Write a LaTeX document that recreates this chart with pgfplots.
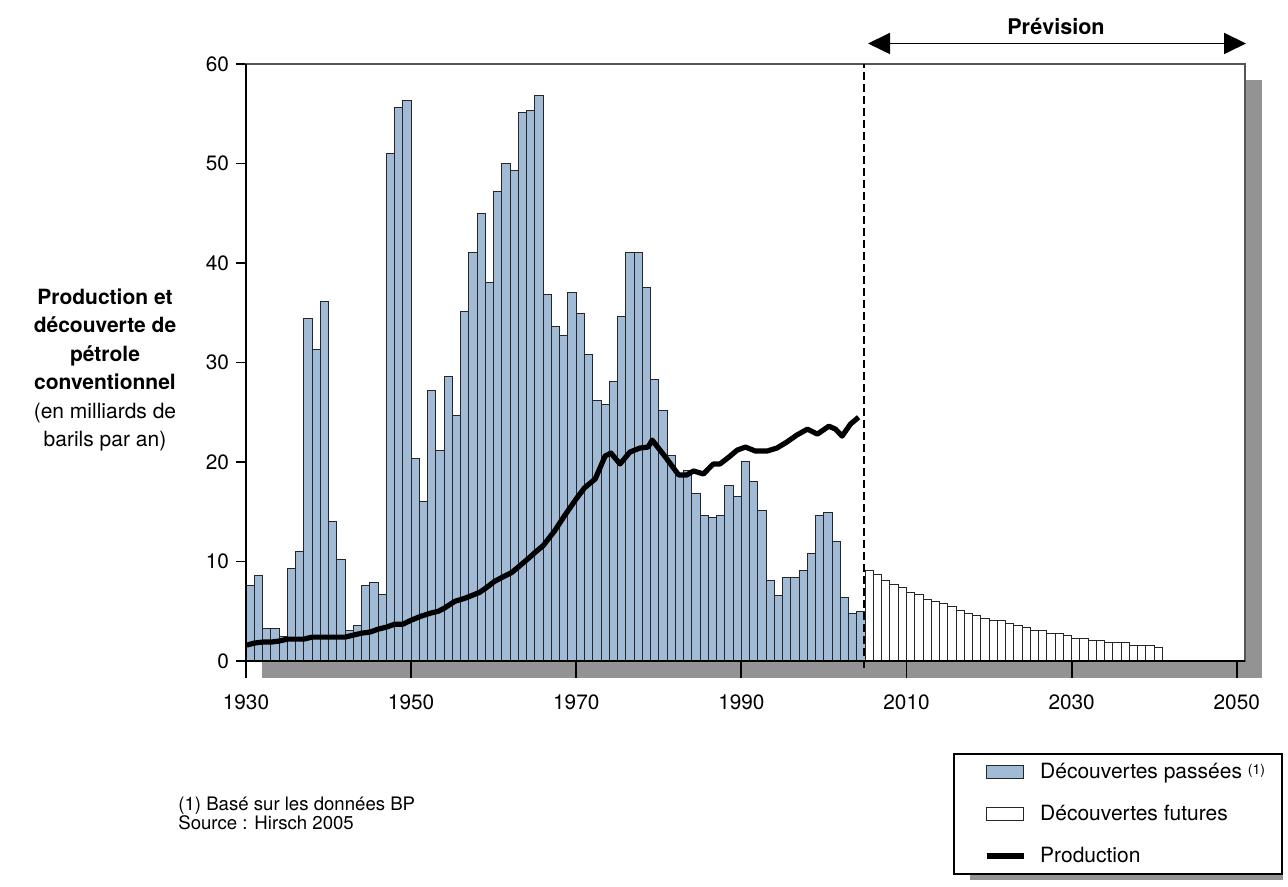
\documentclass[border=0pt]{standalone}
\usepackage{fontspec}
\setmainfont{TeX Gyre Heros}
\usepackage{pgfplots}
\pgfplotsset{compat=1.18}
\usetikzlibrary{arrows.meta}
\definecolor{barblue}{HTML}{A1BBD7}
\definecolor{shadowgray}{HTML}{939393}
\definecolor{framegray}{HTML}{555555}
% pixel of the reference -> picture coordinates (plot area south west at 0,0)
\newcommand\px[2]{({((#1)-246)*0.5pt},{(661-(#2))*0.5pt})}
\pgfplotsset{
  barleg/.style={legend image code/.code={\path (-6.5pt,0); \draw[##1] (0pt,-3.2pt) rectangle (18.5pt,3.2pt);}},
  lineleg/.style={legend image code/.code={\path (-6.5pt,0); \draw[##1] (0pt,0pt) -- (18.5pt,0pt);}},
}
\begin{document}
\begin{tikzpicture}
\useasboundingbox \px{0}{0} rectangle \px{1288}{887};
\fill[shadowgray] \px{262}{80} rectangle \px{1262}{678};
\fill[shadowgray] \px{970}{767} rectangle \px{1283}{880};
\begin{axis}[
  at={(0,0)}, anchor=south west,
  scale only axis, width=499.5pt, height=298.5pt,
  xmin=1930, xmax=2051, ymin=0, ymax=60,
  clip=false,
  axis background/.style={fill=white},
  axis line style={draw=framegray, line width=0.7pt},
  tick pos=left, tick align=outside, major tick length=5pt,
  tick style={black, line width=0.9pt},
  xtick=\empty,
  extra x ticks={1930,1950,1970,1990,2010,2030,2050},
  extra x tick labels={1930,1950,1970,1990,2010,2030,2050},
  extra x tick style={major tick length=8.5pt},
  ytick={0,10,...,60},
  /pgf/number format/assume math mode=true,
  tick label style={font=\fontsize{10.4}{12}\selectfont},
  xticklabel style={yshift=-5pt},
  legend style={at={(0.7077,-0.1541)}, anchor=north west, draw=black,
    line width=1pt, fill=white, font=\fontsize{10.5}{12}\selectfont,
    inner xsep=8.5pt, inner ysep=4.5pt, /tikz/row sep=11.8pt,
    /tikz/column sep=7pt, nodes={inner sep=0pt}},
  legend cell align=left,
]
\addplot[ybar interval, fill=barblue, draw=black!85, line width=0.5pt, barleg]
  coordinates {(1930,7.6)(1931,8.6)(1932,3.3)(1933,3.3)(1934,2.5)(1935,9.3)
  (1936,11.0)(1937,34.4)(1938,31.3)(1939,36.1)(1940,14.0)(1941,10.2)(1942,3.1)
  (1943,3.6)(1944,7.6)(1945,7.9)(1946,6.7)(1947,51.0)(1948,55.6)(1949,56.3)
  (1950,20.4)(1951,16.0)(1952,27.2)(1953,21.2)(1954,28.6)(1955,24.7)(1956,35.1)
  (1957,41.1)(1958,45.0)(1959,38.0)(1960,47.2)(1961,50.0)(1962,49.3)(1963,55.1)
  (1964,55.3)(1965,56.8)(1966,36.8)(1967,33.6)(1968,32.7)(1969,37.0)(1970,34.9)
  (1971,30.8)(1972,26.2)(1973,25.8)(1974,28.1)(1975,34.6)(1976,41.1)(1977,41.1)
  (1978,37.5)(1979,28.3)(1980,25.2)(1981,20.7)(1982,18.8)(1983,19.1)(1984,16.8)
  (1985,14.6)(1986,14.4)(1987,14.6)(1988,17.6)(1989,16.5)(1990,20.1)(1991,18.0)
  (1992,15.1)(1993,8.1)(1994,6.6)(1995,8.4)(1996,8.4)(1997,9.1)(1998,10.8)
  (1999,14.6)(2000,14.9)(2001,12.0)(2002,6.4)(2003,4.8)(2004,5.0)(2005,5.0)};
\addlegendentry{Découvertes passées {\fontsize{7}{8}\selectfont\raisebox{0.5ex}{(1)}}}
\addplot[ybar interval, fill=white, draw=black!85, line width=0.5pt, barleg]
  coordinates {(2005,9.1)(2006,8.7)(2007,8.1)(2008,7.7)(2009,7.4)(2010,6.9)
  (2011,6.7)(2012,6.2)(2013,6.0)(2014,5.8)(2015,5.5)(2016,5.1)(2017,4.8)
  (2018,4.6)(2019,4.3)(2020,4.1)(2021,4.1)(2022,3.8)(2023,3.6)(2024,3.4)
  (2025,3.1)(2026,3.1)(2027,2.8)(2028,2.8)(2029,2.6)(2030,2.3)(2031,2.3)
  (2032,2.1)(2033,2.1)(2034,1.9)(2035,1.9)(2036,1.9)(2037,1.6)(2038,1.6)
  (2039,1.6)(2040,1.4)(2041,1.4)};
\addlegendentry{Découvertes futures}
\addplot[black, line width=2.6pt, line join=round, lineleg]
  coordinates {(1930.1,1.6)(1931,1.8)(1932,1.9)(1933,1.9)(1934,2.0)(1935,2.2)
  (1936,2.2)(1937,2.2)(1938,2.4)(1939,2.4)(1940,2.4)(1941,2.4)(1942,2.4)
  (1943,2.6)(1944,2.8)(1945,2.9)(1946,3.2)(1947,3.4)(1948,3.7)(1949,3.7)
  (1950,4.1)(1951.2,4.5)(1952.3,4.8)(1953.3,5.0)(1954,5.3)(1955.3,6.0)
  (1956.5,6.3)(1958.3,6.9)(1959,7.3)(1960.1,8.0)(1961,8.4)(1962.2,8.9)
  (1963.2,9.6)(1964.2,10.3)(1965,10.9)(1966,11.6)(1967.4,13.1)(1968.5,14.5)
  (1970,16.3)(1971,17.4)(1972.3,18.3)(1973.5,20.6)(1974.2,20.9)(1975.3,19.8)
  (1976.5,21.0)(1977.7,21.4)(1978.7,21.5)(1979.2,22.2)(1980.8,20.5)
  (1982.4,18.7)(1983.4,18.7)(1984.2,19.1)(1985.4,18.8)(1986.6,19.8)
  (1987.4,19.8)(1988.5,20.5)(1989.5,21.2)(1990.5,21.5)(1991.7,21.1)
  (1993.1,21.1)(1994.3,21.4)(1995.5,22.0)(1996.7,22.7)(1998.0,23.3)
  (1999.2,22.8)(2000.6,23.6)(2001.4,23.3)(2002.2,22.6)(2003.2,23.8)(2004.2,24.5)};
\addlegendentry{Production}
\draw[black, line width=0.6pt, dash pattern=on 4pt off 2pt]
  (axis cs:2004.85,-0.7) -- (axis cs:2004.85,60);
\draw[black, line width=1pt] (rel axis cs:0,1) -- (rel axis cs:0,0) -- (rel axis cs:1,0);
\end{axis}
\draw[line width=0.9pt, {Triangle[length=11pt,width=10.5pt]}-{Triangle[length=11pt,width=10.5pt]}]
  \px{868}{43.5} -- \px{1246}{43.5};
\node[font=\bfseries\fontsize{10.8}{13}\selectfont] at \px{1056}{26} {Prévision};
\node[align=center, font=\fontsize{10.5}{14.2}\selectfont] at \px{105}{370}
  {\textbf{Production et}\\\textbf{découverte de}\\\textbf{pétrole}\\\textbf{conventionnel}\\(en milliards de\\barils par an)};
\node[anchor=west, align=left, inner sep=0pt, font=\fontsize{9.3}{9.6}\selectfont] at \px{178}{813}
  {(1) Basé sur les données BP\\Source : Hirsch 2005};
\end{tikzpicture}
\end{document}
